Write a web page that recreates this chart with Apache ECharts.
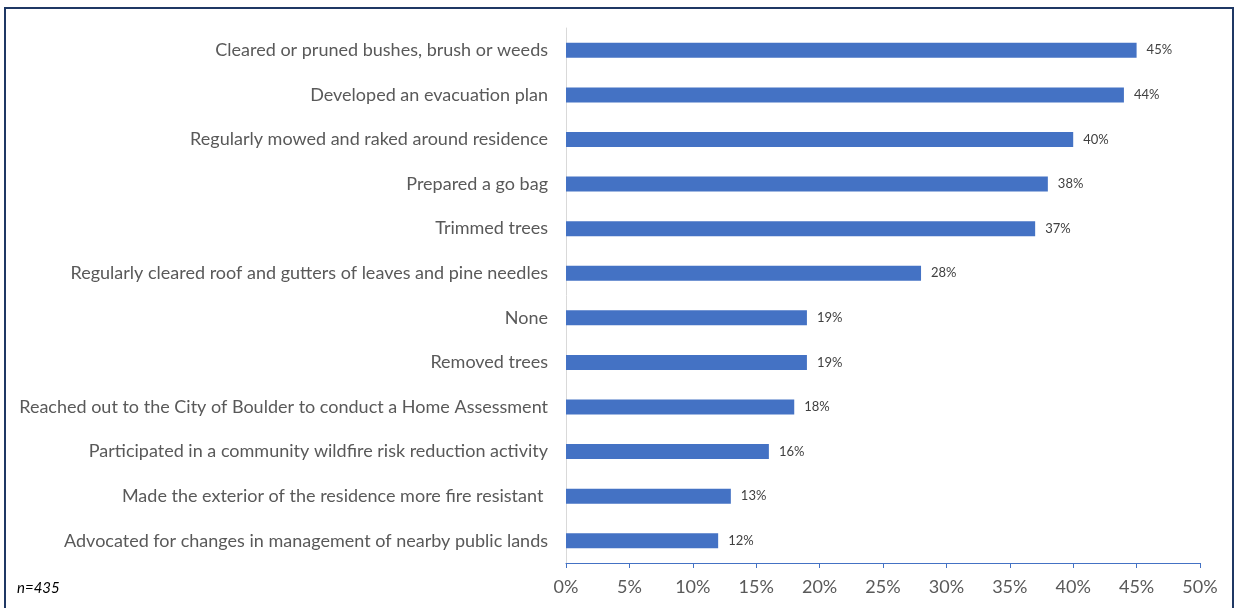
<!DOCTYPE html>
<html>
<head>
<meta charset="utf-8">
<script src="https://cdn.jsdelivr.net/npm/echarts@6/dist/echarts.min.js"></script>
<style>
  html, body { margin: 0; padding: 0; background: #fff; }
  #chart { width: 1239px; height: 608px; }
</style>
</head>
<body>
<div id="chart"></div>
<script>
// Wildfire preparedness actions taken by residents (share of respondents)
const categories = [
  "Cleared or pruned bushes, brush or weeds",
  "Developed an evacuation plan",
  "Regularly mowed and raked around residence",
  "Prepared a go bag",
  "Trimmed trees",
  "Regularly cleared roof and gutters of leaves and pine needles",
  "None",
  "Removed trees",
  "Reached out to the City of Boulder to conduct a Home Assessment",
  "Participated in a community wildfire risk reduction activity",
  "Made the exterior of the residence more fire resistant ",
  "Advocated for changes in management of nearby public lands"
];
const values = [45, 44, 40, 38, 37, 28, 19, 19, 18, 16, 13, 12];
const xTicks = [0, 5, 10, 15, 20, 25, 30, 35, 40, 45, 50];
const sampleNote = "n=435";

const chart = echarts.init(document.getElementById('chart'), null, { renderer: 'canvas' });
const font = 'Lato, "Liberation Sans", sans-serif';

chart.setOption({
  animation: false,
  backgroundColor: '#ffffff',
  grid: { left: 566, right: 39, top: 28, bottom: 45, containLabel: false },
  xAxis: {
    type: 'value',
    min: xTicks[0],
    max: xTicks[xTicks.length - 1],
    interval: xTicks[1] - xTicks[0],
    axisLine: { show: true, lineStyle: { color: '#4472c4', width: 1 } },
    axisTick: { show: true, length: 5, lineStyle: { color: '#4472c4' } },
    splitLine: { show: false },
    axisLabel: {
      formatter: v => v + '%',
      color: '#595959',
      fontFamily: font,
      fontSize: 18,
      margin: 15
    }
  },
  yAxis: {
    type: 'category',
    inverse: true,
    data: categories,
    axisLine: { show: true, lineStyle: { color: '#d9d9d9', width: 1 } },
    axisTick: { show: false },
    axisLabel: {
      color: '#595959',
      fontFamily: font,
      fontSize: 18,
      margin: 18
    }
  },
  series: [{
    type: 'bar',
    data: values,
    barWidth: 15,
    itemStyle: { color: '#4472c4' },
    label: {
      show: true,
      position: 'right',
      distance: 10,
      formatter: p => p.value + '%',
      color: '#404040',
      fontFamily: font,
      fontSize: 13
    }
  }],
  graphic: [
    {
      type: 'rect',
      shape: { x: 5, y: 8, width: 1228, height: 640 },
      style: { fill: 'none', stroke: '#1f3864', lineWidth: 2 },
      silent: true
    },
    {
      type: 'text',
      left: 17,
      top: 581,
      style: {
        text: sampleNote,
        fill: '#000000',
        font: 'italic 15px ' + font
      }
    }
  ]
});
</script>
</body>
</html>
